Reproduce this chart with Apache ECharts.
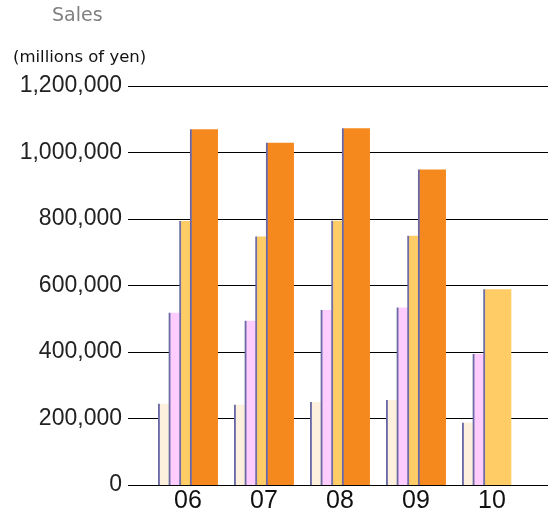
<!DOCTYPE html>
<html>
<head>
<meta charset="utf-8">
<script src="https://cdn.jsdelivr.net/npm/echarts@6/dist/echarts.min.js"></script>
<style>
html,body{margin:0;padding:0;background:#fff;}
#chart{width:548px;height:515px;}
</style>
</head>
<body>
<div id="chart"></div>
<script>
var categories = ['06', '07', '08', '09', '10'];
var q1Sales = [244000, 241000, 250000, 256000, 187000];
var halfSales = [518000, 494000, 526000, 534000, 394000];
var q3Sales = [794000, 747000, 795000, 750000, 589000];
var fullSales = [1070000, 1029000, 1073000, 949000, null];
var yTicks = [0, 200000, 400000, 600000, 800000, 1000000, 1200000];

var chart = echarts.init(document.getElementById('chart'), null, {renderer: 'canvas'});

function barFill(c) {
  return new echarts.graphic.LinearGradient(0, 0, 1, 0, [
    {offset: 0, color: '#5e5e9e'},
    {offset: 0.05, color: '#7472aa'},
    {offset: 0.08, color: c},
    {offset: 1, color: c}
  ]);
}

var colors = ['#fdf0dd', '#ffccff', '#ffcc66', '#f5891d'];
var seriesData = [q1Sales, halfSales, q3Sales, fullSales];
var seriesNames = ['1Q', '2Q', '3Q', 'Full year'];

var series = seriesData.map(function (d, i) {
  return {
    name: seriesNames[i],
    type: 'bar',
    xAxisIndex: 1,
    yAxisIndex: 1,
    data: d,
    barWidth: 28,
    barGap: '-62%',
    itemStyle: {color: barFill(colors[i])},
    emphasis: {disabled: true},
    animation: false
  };
});

chart.setOption({
  animation: false,
  title: [
    {text: 'Sales', left: 52, top: 7, padding: 0,
     textStyle: {fontFamily: 'DejaVu Sans', fontSize: 19, fontWeight: 'normal', color: '#808080'}},
    {text: '(millions of yen)', left: 13, top: 49, padding: 0,
     textStyle: {fontFamily: 'DejaVu Sans', fontSize: 16.5, fontWeight: 'normal', color: '#111'}}
  ],
  grid: [
    {left: 128, right: 0, top: 86, bottom: 30},
    {left: 150, right: 18, top: 86, bottom: 30}
  ],
  xAxis: [
    {type: 'category', gridIndex: 0, data: categories, show: false},
    {type: 'category', gridIndex: 1, data: categories,
     axisLine: {show: false}, axisTick: {show: false},
     axisLabel: {fontFamily: 'Liberation Sans Narrow, Liberation Sans, Arial', fontSize: 25, color: '#111', margin: 4}}
  ],
  yAxis: [
    {type: 'value', gridIndex: 0, min: yTicks[0], max: yTicks[yTicks.length - 1], interval: 200000,
     axisLine: {show: false}, axisTick: {show: false},
     axisLabel: {fontFamily: 'Liberation Sans, Arial', fontSize: 23, color: '#222', margin: 6,
       formatter: function (v) { return v.toLocaleString('en-US'); }},
     splitLine: {show: true, lineStyle: {color: '#000', width: 1}}},
    {type: 'value', gridIndex: 1, min: yTicks[0], max: yTicks[yTicks.length - 1], interval: 200000, show: false,
     splitLine: {show: false}}
  ],
  series: series
});
</script>
</body>
</html>
